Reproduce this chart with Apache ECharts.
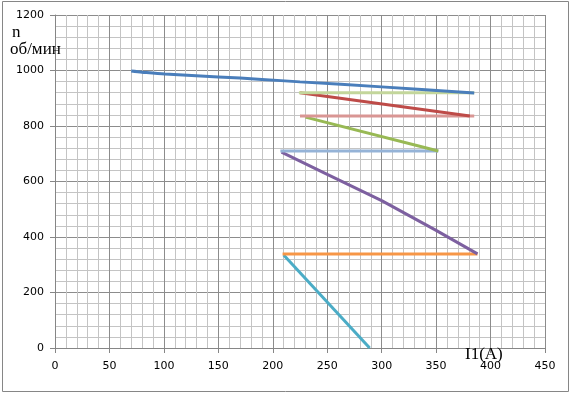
<!DOCTYPE html>
<html>
<head>
<meta charset="utf-8">
<script src="https://cdn.jsdelivr.net/npm/echarts@6/dist/echarts.min.js"></script>
<style>
html, body { margin: 0; padding: 0; background: #fff; }
#chart { width: 574px; height: 398px; }
</style>
</head>
<body>
<div id="chart"></div>
<script>
// ось X: ток I1 (A), ось Y: n об/мин
var xTicks = [0, 50, 100, 150, 200, 250, 300, 350, 400, 450];
var yTicks = [0, 200, 400, 600, 800, 1000, 1200];

// естественная характеристика
var natural = [[70, 998], [80, 994], [101, 987], [150, 977], [190, 968], [225, 959], [300, 941], [385, 919]];
// пусковые ступени (наклонные) и переключения (горизонтальные)
var step1h = [[224, 920], [385, 920]];
var step1 = [[225, 920], [381, 836]];
var step2h = [[225, 836], [385, 836]];
var step2 = [[230, 832], [352, 710]];
var step3h = [[207, 710], [352, 710]];
var step3 = [[208, 706], [250, 626], [300, 531], [350, 424], [388, 339]];
var step4h = [[209, 339], [388, 339]];
var step4 = [[210, 335], [289, 0]];

var seriesData = [natural, step1h, step1, step2h, step2, step3h, step3, step4h, step4];
var colors = ['#4A7EBB', '#C3D69B', '#BE4B48', '#D99694', '#98B954', '#95B3D7', '#7D60A0', '#F79646', '#4BACC6'];

var chart = echarts.init(document.getElementById('chart'));

var series = seriesData.map(function (d, i) {
	return {
		type: 'line',
		data: d,
		smooth: i === 0 ? 0.3 : false,
		showSymbol: false,
		lineStyle: { color: colors[i], width: 3 },
		z: 10 - i
	};
});

chart.setOption({
	animation: false,
	grid: { left: 55, right: 29, top: 15, bottom: 50 },
	xAxis: {
		type: 'value',
		min: 0, max: 450, interval: 50,
		axisLine: { show: true, lineStyle: { color: '#868686' } },
		axisTick: { show: true, length: 5, lineStyle: { color: '#868686' } },
		axisLabel: { color: '#000', fontFamily: 'DejaVu Sans', fontSize: 11, margin: 13,
			formatter: function (v) { return String(v); } },
		splitLine: { show: true, lineStyle: { color: '#8C8C8C', width: 1 } },
		minorTick: { show: false, splitNumber: 5 },
		minorSplitLine: { show: true, lineStyle: { color: '#C4C4C4', width: 1 } }
	},
	yAxis: {
		type: 'value',
		min: 0, max: 1200, interval: 200,
		axisLine: { show: true, lineStyle: { color: '#868686' } },
		axisTick: { show: true, length: 5, lineStyle: { color: '#868686' } },
		axisLabel: { color: '#000', fontFamily: 'DejaVu Sans', fontSize: 11, margin: 11,
			formatter: function (v) { return String(v); } },
		splitLine: { show: true, lineStyle: { color: '#8C8C8C', width: 1 } },
		minorTick: { show: false, splitNumber: 5 },
		minorSplitLine: { show: true, lineStyle: { color: '#C4C4C4', width: 1 } }
	},
	graphic: [
		{ type: 'rect', shape: { x: 2.5, y: 1.5, width: 566, height: 390 },
		  style: { fill: 'none', stroke: '#868686', lineWidth: 1 }, silent: true },
		{ type: 'text', left: 12, top: 24, z: 100,
		  style: { text: 'n', font: '17px "Liberation Serif"', fill: '#000' } },
		{ type: 'text', left: 10, top: 41, z: 100,
		  style: { text: 'об/мин', font: '17px "Liberation Serif"', fill: '#000' } },
		{ type: 'text', left: 465, top: 346, z: 100,
		  style: { text: 'I1(A)', font: '17px "Liberation Serif"', fill: '#000' } }
	],
	series: series
});
</script>
</body>
</html>
